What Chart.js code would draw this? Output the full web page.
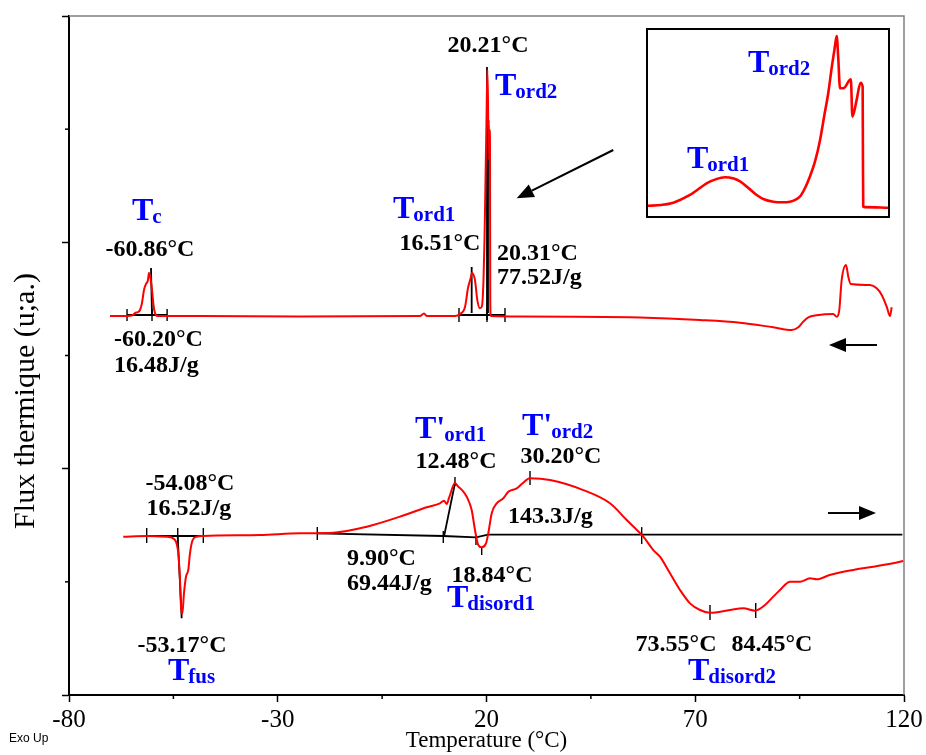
<!DOCTYPE html>
<html>
<head>
<meta charset="utf-8">
<script src="https://cdn.jsdelivr.net/npm/chart.js@4.4.1/dist/chart.umd.min.js"></script>
<style>
  html, body { margin: 0; padding: 0; background: #fff; }
  #wrap { position: relative; width: 926px; height: 755px; }
  #main { position: absolute; left: 0; top: 0; }
  #insetBox { position: absolute; left: 646px; top: 28px; width: 244px; height: 190px;
              border: 2px solid #000; box-sizing: border-box; background: #fff; }
  #inset { display: block; }
</style>
</head>
<body>
<div id="wrap">
  <canvas id="main" width="926" height="755"></canvas>
  <div id="insetBox"><canvas id="inset" width="240" height="186"></canvas></div>
</div>
<script>
// ---------------- DATA ----------------
// Cooling run (upper curve): temperature (°C) and heat flow (arbitrary units)
const coolTemp = [-70.18, -66.11, -64.67, -64.19, -63.47, -62.99, -62.52, -62.04, -61.56, -61.08,
  -60.86, -60.48, -60.12, -59.76, -59.40, -58.68, -48.62, -24.67, 4.07, 5.03,
  5.75, 12.45, 13.65, 14.85, 15.57, 16.21, 16.51, 17.24, 17.80, 18.44,
  18.92, 19.28, 19.52, 19.76, 20.00, 20.21, 20.36, 20.43, 20.57, 20.64,
  20.74, 20.83, 20.90, 21.02, 28.02, 56.77, 71.14, 80.72, 88.69, 93.10,
  94.68, 95.88, 97.08, 99.09, 103.06, 103.88, 104.50, 105.07, 106.11, 106.66,
  107.23, 111.86, 113.46, 114.66, 115.86, 116.65, 117.05];
const coolFlux = [3.349, 3.349, 3.358, 3.375, 3.384, 3.402, 3.464, 3.579, 3.632, 3.667,
  3.729, 3.685, 3.579, 3.446, 3.375, 3.349, 3.349, 3.345, 3.349, 3.371,
  3.349, 3.349, 3.367, 3.428, 3.596, 3.685, 3.729, 3.667, 3.490, 3.417,
  3.437, 3.667, 4.021, 4.551, 5.081, 5.523, 5.258, 5.010, 5.081, 4.727,
  4.992, 4.904, 3.490, 3.349, 3.345, 3.336, 3.314, 3.290, 3.249, 3.225,
  3.249, 3.299, 3.337, 3.355, 3.367, 3.343, 3.402, 3.667, 3.800, 3.696,
  3.632, 3.623, 3.594, 3.535, 3.431, 3.349, 3.426];

// Heating run (lower curve)
const heatTemp = [-67.0, -61.39, -56.60, -54.61, -53.82, -53.41, -53.17, -52.86, -52.46, -51.98,
  -51.43, -51.02, -50.37, -49.41, -47.90, -34.25, -24.67, -16.69, -8.69, -0.72,
  5.68, 8.86, 9.82, 10.46, 11.02, 12.45, 13.24, 14.13, 15.26, 16.45,
  17.24, 18.03, 18.85, 19.88, 20.43, 21.25, 22.44, 24.03, 25.22, 27.24,
  28.43, 30.42, 35.21, 43.19, 49.58, 53.58, 57.56, 59.95, 61.55, 63.95,
  66.35, 68.74, 71.14, 73.53, 78.32, 81.51, 84.31, 86.70, 88.69, 90.30,
  92.69, 95.09, 97.48, 99.09, 102.18, 107.86, 112.65, 119.04, 119.8];
const heatFlux = [1.399, 1.405, 1.399, 1.370, 1.252, 1.016, 0.780, 0.716, 0.899, 1.045,
  1.105, 1.252, 1.370, 1.399, 1.405, 1.414, 1.429, 1.434, 1.487, 1.576,
  1.659, 1.694, 1.717, 1.688, 1.741, 1.873, 1.841, 1.811, 1.752, 1.635,
  1.458, 1.325, 1.305, 1.340, 1.429, 1.606, 1.694, 1.738, 1.796, 1.826,
  1.864, 1.915, 1.900, 1.811, 1.694, 1.546, 1.399, 1.281, 1.222, 1.075,
  0.928, 0.810, 0.751, 0.727, 0.751, 0.766, 0.745, 0.795, 0.869, 0.928,
  1.001, 1.001, 1.031, 1.022, 1.060, 1.105, 1.134, 1.178, 1.185];

// Inset: enlarged Tord1 / Tord2 region of the cooling run
const insetTemp = [13.94, 14.4, 14.80, 15.35, 15.6, 15.90, 16.2, 16.51, 16.8, 17.01,
  17.3, 17.56, 17.8, 18.11, 18.4, 18.66, 18.99, 19.15, 19.32, 19.5,
  19.66, 19.8, 19.93, 20.05, 20.15, 20.21, 20.26, 20.32, 20.43, 20.68,
  20.73, 20.87, 21.00, 21.07, 21.08, 21.09, 21.15, 21.92];
const insetFlux = [0.059, 0.064, 0.076, 0.117, 0.145, 0.179, 0.200, 0.211, 0.204, 0.189,
  0.152, 0.117, 0.094, 0.081, 0.078, 0.081, 0.108, 0.150, 0.214, 0.300,
  0.410, 0.540, 0.658, 0.800, 0.906, 0.963, 0.853, 0.685, 0.685, 0.732,
  0.534, 0.622, 0.714, 0.693, 0.303, 0.055, 0.052, 0.049];

// Integration baselines / peak lines (black), one polyline per entry
const markLineTemp = [
  [-66.1, -56.5], [-60.36, -60.12], [13.41, 24.43], [20.12, 20.12], [20.36, 20.36],
  [16.45, 16.45], [-61.39, -47.83], [-53.96, -53.01],
  [-20.53, 9.65, 17.48, 20.36, 119.6], [9.82, 12.45]];
const markLineFlux = [
  [3.358, 3.358], [3.773, 3.358], [3.358, 3.358], [5.549, 3.314], [5.107, 3.375],
  [3.782, 3.375], [1.405, 1.405], [1.399, 0.678],
  [1.429, 1.405, 1.393, 1.418, 1.418], [1.399, 1.871]];

// Small vertical tick marks on the integration baselines
const tickTemp = [-66.1, -60.12, -56.5, 13.41, 20.12, 24.43, -61.39, -53.96, -47.83,
  -20.53, 9.65, 17.48, 57.17, 12.45, 18.85, 30.42, 73.53, 84.48];
const tickLow = [3.305, 3.305, 3.305, 3.296, 3.296, 3.296, 1.343, 1.343, 1.343,
  1.370, 1.343, 1.325, 1.334, 1.847, 1.237, 1.856, 0.663, 0.680];
const tickHigh = [3.411, 3.411, 3.411, 3.420, 3.420, 3.420, 1.476, 1.476, 1.476,
  1.484, 1.449, 1.414, 1.484, 1.926, 1.308, 1.979, 0.795, 0.813];

// Axis ticks
const xTickValues = [-80, -55, -30, -5, 20, 45, 70, 95, 120];
const xTickLabels = ['-80', '', '-30', '', '20', '', '70', '', '120'];
const yTickValues = [0, 1, 2, 3, 4, 5, 6];

// Annotation texts (value labels)
const valueTexts = ['-60.86°C', '-60.20°C', '16.48J/g', '20.21°C', '16.51°C', '20.31°C', '77.52J/g',
  '-54.08°C', '16.52J/g', '-53.17°C', '12.48°C', '30.20°C', '143.3J/g', '9.90°C', '69.44J/g',
  '18.84°C', '73.55°C', '84.45°C'];
const transMain = ['T', 'T', 'T', "T'", "T'", 'T', 'T', 'T'];
const transSub = ['c', 'ord2', 'ord1', 'ord1', 'ord2', 'disord1', 'fus', 'disord2'];

// ---------------- LAYOUT (positions in data units) ----------------
const valuePos = [
  [-60.60, 3.879, 'center'], [-69.22, 3.084, 'left'], [-69.22, 2.854, 'left'], [20.36, 5.682, 'center'],
  [8.86, 3.932, 'center'], [22.52, 3.844, 'left'], [22.52, 3.632, 'left'],
  [-51.02, 1.811, 'center'], [-51.3, 1.591, 'center'], [-52.93, 0.380, 'center'],
  [12.70, 2.006, 'center'], [37.84, 2.050, 'center'], [25.15, 1.520, 'left'],
  [-13.41, 1.149, 'left'], [-13.41, 0.928, 'left'], [21.32, 0.999, 'center'],
  [65.39, 0.389, 'center'], [88.38, 0.389, 'center']];
const transPos = [[-64.91, 4.197], [22.04, 5.302], [-2.40, 4.215], [2.87, 2.271], [28.50, 2.297],
  [10.54, 0.778], [-56.29, 0.133], [68.26, 0.133]];
const arrows = [[50.37, 4.816, 27.23, 4.389], [113.53, 3.093, 102.03, 3.093], [101.79, 1.608, 113.29, 1.608]];

const SERIF = '"Liberation Serif", "Times New Roman", serif';
const BLUE = '#0000ff';

function zip(a, b) { return a.map((v, i) => ({ x: v, y: b[i] })); }

function drawTrans(ctx, x, y, main, sub) {
  ctx.fillStyle = BLUE;
  ctx.textAlign = 'left';
  ctx.textBaseline = 'alphabetic';
  ctx.font = 'bold 32px ' + SERIF;
  ctx.fillText(main, x, y);
  const w = ctx.measureText(main).width;
  ctx.font = 'bold 21px ' + SERIF;
  ctx.fillText(sub, x + w - 1, y + 3);
}

function drawArrow(ctx, x1, y1, x2, y2) {
  const ang = Math.atan2(y2 - y1, x2 - x1);
  const L = 17, H = 7;
  const bx = x2 - L * Math.cos(ang), by = y2 - L * Math.sin(ang);
  ctx.strokeStyle = '#000'; ctx.fillStyle = '#000'; ctx.lineWidth = 2;
  ctx.beginPath(); ctx.moveTo(x1, y1); ctx.lineTo(bx, by); ctx.stroke();
  ctx.beginPath();
  ctx.moveTo(x2, y2);
  ctx.lineTo(bx + H * Math.sin(ang), by - H * Math.cos(ang));
  ctx.lineTo(bx - H * Math.sin(ang), by + H * Math.cos(ang));
  ctx.closePath(); ctx.fill();
}

const mainPlugin = {
  id: 'dscAnnot',
  beforeDatasetsDraw(chart) {
    const { ctx, chartArea: a } = chart;
    ctx.save();
    ctx.strokeStyle = '#808080'; ctx.lineWidth = 1.5;
    ctx.beginPath();
    ctx.moveTo(a.left, a.top); ctx.lineTo(a.right, a.top); ctx.lineTo(a.right, a.bottom);
    ctx.stroke();
    ctx.restore();
  },
  afterDatasetsDraw(chart) {
    const { ctx, chartArea: a } = chart;
    const xs = chart.scales.x, ys = chart.scales.y;
    ctx.save();
    // minor axis ticks (shorter)
    ctx.strokeStyle = '#000'; ctx.lineWidth = 1.5;
    xTickValues.forEach((v, i) => {
      if (xTickLabels[i] !== '') return;
      const px = xs.getPixelForValue(v);
      ctx.beginPath(); ctx.moveTo(px, a.bottom); ctx.lineTo(px, a.bottom + 4); ctx.stroke();
    });
    yTickValues.forEach(v => {
      if (v % 2 === 0) return;
      const py = ys.getPixelForValue(v);
      ctx.beginPath(); ctx.moveTo(a.left - 4, py); ctx.lineTo(a.left, py); ctx.stroke();
    });
    // value labels
    ctx.fillStyle = '#000';
    ctx.font = 'bold 24px ' + SERIF;
    ctx.textBaseline = 'alphabetic';
    valueTexts.forEach((t, i) => {
      const p = valuePos[i];
      ctx.textAlign = p[2];
      ctx.fillText(t, xs.getPixelForValue(p[0]), ys.getPixelForValue(p[1]));
    });
    // transition names
    transMain.forEach((m, i) => {
      drawTrans(ctx, xs.getPixelForValue(transPos[i][0]), ys.getPixelForValue(transPos[i][1]), m, transSub[i]);
    });
    // arrows
    arrows.forEach(r => drawArrow(ctx, xs.getPixelForValue(r[0]), ys.getPixelForValue(r[1]),
      xs.getPixelForValue(r[2]), ys.getPixelForValue(r[3])));
    ctx.restore();
  },
  afterDraw(chart) {
    const { ctx } = chart;
    ctx.save();
    ctx.fillStyle = '#000';
    ctx.font = '30px ' + SERIF;
    ctx.textAlign = 'center'; ctx.textBaseline = 'middle';
    ctx.translate(26, 401); ctx.rotate(-Math.PI / 2);
    ctx.fillText('Flux thermique (u;a.)', 0, 0);
    ctx.restore();
    ctx.save();
    ctx.fillStyle = '#000';
    ctx.font = '12px "Liberation Sans", Arial, sans-serif';
    ctx.textAlign = 'left'; ctx.textBaseline = 'alphabetic';
    ctx.fillText('Exo Up', 9, 742);
    ctx.restore();
  }
};

const markDatasets = markLineTemp.map((tArr, i) => ({
  data: zip(tArr, markLineFlux[i]), showLine: true, borderColor: '#000', borderWidth: 1.8,
  pointRadius: 0, tension: 0
}));
const tickDatasets = tickTemp.map((t, i) => ({
  data: [{ x: t, y: tickLow[i] }, { x: t, y: tickHigh[i] }], showLine: true, borderColor: '#000',
  borderWidth: 1.4, pointRadius: 0, tension: 0
}));

new Chart(document.getElementById('main'), {
  type: 'scatter',
  data: {
    datasets: [
      { data: zip(coolTemp, coolFlux), showLine: true, borderColor: '#ff0000', borderWidth: 2,
        pointRadius: 0, cubicInterpolationMode: 'monotone' },
      { data: zip(heatTemp, heatFlux), showLine: true, borderColor: '#ff0000', borderWidth: 2,
        pointRadius: 0, cubicInterpolationMode: 'monotone' },
      ...markDatasets,
      ...tickDatasets
    ]
  },
  options: {
    responsive: false, animation: false, devicePixelRatio: 1,
    layout: { padding: { top: 16, right: 22, left: 0, bottom: 0 } },
    plugins: { legend: { display: false }, tooltip: { enabled: false } },
    scales: {
      x: {
        type: 'linear', position: 'bottom', min: -80, max: 120,
        afterFit: s => { s.height = 60; },
        afterBuildTicks: s => { s.ticks = xTickValues.map(v => ({ value: v })); },
        ticks: {
          autoSkip: false, maxRotation: 0, padding: 3, color: '#000',
          font: { family: SERIF, size: 25 },
          callback: (v) => { const i = xTickValues.indexOf(v); return i >= 0 ? xTickLabels[i] : ''; }
        },
        grid: { drawOnChartArea: false, drawTicks: true, tickLength: 7, tickWidth: 1.5,
          tickColor: c => (c.tick && xTickLabels[xTickValues.indexOf(c.tick.value)] !== '') ? '#000' : 'rgba(0,0,0,0)' },
        border: { display: true, color: '#000', width: 2 },
        title: { display: true, text: 'Temperature (°C)', color: '#000',
          font: { family: SERIF, size: 23 }, padding: { top: 0, bottom: 0 } }
      },
      y: {
        type: 'linear', position: 'left', min: 0, max: 6,
        afterFit: s => { s.width = 69; },
        afterBuildTicks: s => { s.ticks = yTickValues.map(v => ({ value: v })); },
        ticks: { display: false },
        grid: { drawOnChartArea: false, drawTicks: true, tickLength: 7, tickWidth: 1.5,
          tickColor: c => (c.tick && c.tick.value % 2 === 0) ? '#000' : 'rgba(0,0,0,0)' },
        border: { display: true, color: '#000', width: 2 }
      }
    }
  },
  plugins: [mainPlugin]
});

// ---------------- INSET ----------------
const insetLabelPos = [[17.27, 0.771, 'ord2'], [15.25, 0.261, 'ord1']];
new Chart(document.getElementById('inset'), {
  type: 'scatter',
  data: { datasets: [{ data: zip(insetTemp, insetFlux), showLine: true, borderColor: '#ff0000',
    borderWidth: 2.6, pointRadius: 0, cubicInterpolationMode: 'monotone' }] },
  options: {
    responsive: false, animation: false, devicePixelRatio: 1,
    layout: { padding: 0 },
    plugins: { legend: { display: false }, tooltip: { enabled: false } },
    scales: {
      x: { type: 'linear', display: false, min: 13.96, max: 21.91 },
      y: { type: 'linear', display: false, min: 0.005, max: 0.995 }
    }
  },
  plugins: [{
    id: 'insetLabels',
    afterDatasetsDraw(chart) {
      const ctx = chart.ctx, xs = chart.scales.x, ys = chart.scales.y;
      ctx.save();
      insetLabelPos.forEach(p => drawTrans(ctx, xs.getPixelForValue(p[0]), ys.getPixelForValue(p[1]), 'T', p[2]));
      ctx.restore();
    }
  }]
});
</script>
</body>
</html>
